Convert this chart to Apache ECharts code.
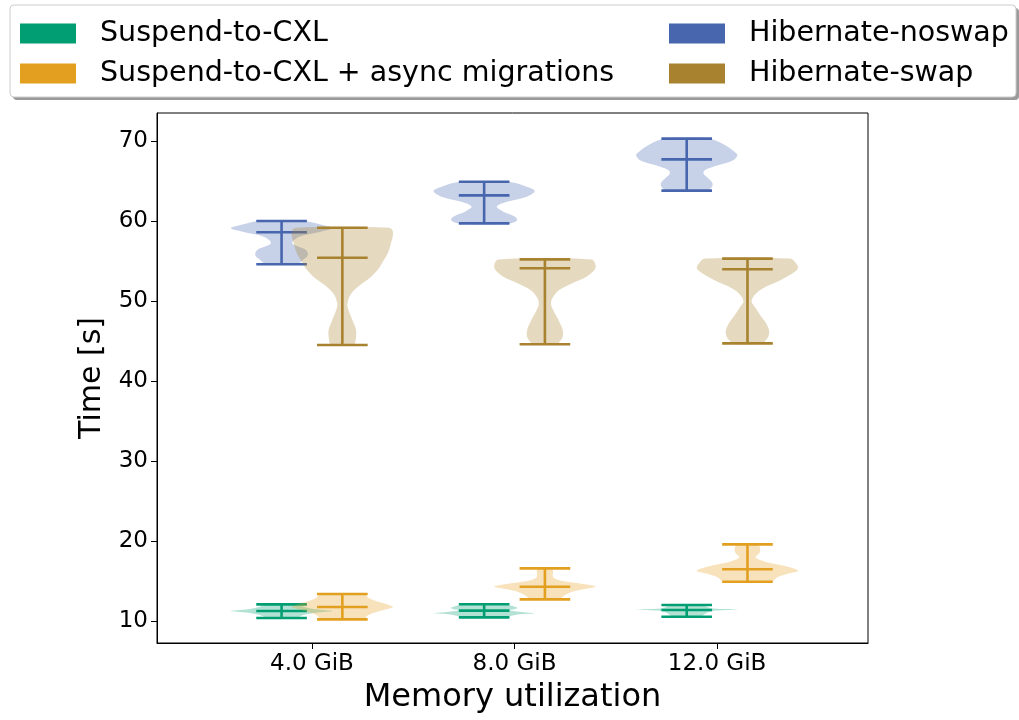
<!DOCTYPE html>
<html><head><meta charset="utf-8">
<script src="https://cdn.jsdelivr.net/npm/echarts@6/dist/echarts.min.js"></script>
<style>html,body{margin:0;padding:0;background:#fff}#c{width:1019px;height:720px}</style>
</head><body><div id="c"></div>
<script>
const categories = ['4.0 GiB', '8.0 GiB', '12.0 GiB'];
const seriesNames = ['Suspend-to-CXL', 'Suspend-to-CXL + async migrations', 'Hibernate-noswap', 'Hibernate-swap'];
const yTicks = [10, 20, 30, 40, 50, 60, 70];

// Suspend-to-CXL: min / middle bar / max per category, and violin outline [value, relative width]
const cxlMin = [10.38, 10.45, 10.54];
const cxlMid = [11.25, 11.3, 11.38];
const cxlMax = [12.08, 12.1, 12.0];
const cxlShape = [
  [[12.08,0.30],[11.79,0.43],[11.46,0.66],[11.25,1.0],[11.04,0.66],[10.75,0.43],[10.38,0.27]],
  [[12.1,0.38],[11.85,0.58],[11.6,0.66],[11.35,0.5],[11.1,0.78],[10.96,1.0],[10.8,0.66],[10.45,0.38]],
  [[12.0,0.31],[11.7,0.43],[11.52,0.6],[11.45,1.0],[11.3,0.58],[11.0,0.39],[10.54,0.27]]
];

// Suspend-to-CXL + async migrations
const asyncMin = [10.2, 12.7, 14.9];
const asyncMid = [11.75, 14.29, 16.46];
const asyncMax = [13.38, 16.58, 19.58];
const asyncShape = [
  [[13.38,0.43],[12.83,0.53],[12.4,0.71],[12.0,0.92],[11.75,1.0],[11.38,0.82],[10.96,0.59],[10.54,0.47],[10.2,0.45]],
  [[16.58,0.14],[16.17,0.16],[15.54,0.16],[15.12,0.27],[14.8,0.55],[14.5,0.88],[14.29,1.0],[13.96,0.75],[13.54,0.49],[13.04,0.35],[12.7,0.31]],
  [[19.58,0.2],[19.08,0.25],[18.54,0.24],[17.96,0.16],[17.4,0.35],[17.0,0.65],[16.58,0.9],[16.25,1.0],[15.88,0.78],[15.46,0.59],[14.9,0.47]]
];

// Hibernate-noswap
const noswapMin = [54.6, 59.7, 63.8];
const noswapMid = [58.6, 63.2, 67.7];
const noswapMax = [60.0, 64.9, 70.3];
const noswapShape = [
  [[60.0,0.42],[59.5,0.81],[59.09,1.0],[58.67,0.77],[58.04,0.35],[57.21,0.21],[56.38,0.48],[55.75,0.52],[55.12,0.42],[54.6,0.31]],
  [[64.9,0.47],[64.29,0.84],[63.75,1.0],[63.04,0.84],[62.4,0.45],[61.8,0.25],[61.2,0.37],[60.54,0.61],[60.1,0.65],[59.7,0.51]],
  [[70.3,0.43],[69.5,0.75],[68.67,0.94],[68.25,1.0],[67.6,0.92],[67.0,0.63],[66.4,0.37],[65.96,0.33],[65.3,0.43],[64.7,0.51],[64.2,0.49],[63.8,0.39]]
];

// Hibernate-swap
const swapMin = [44.5, 44.6, 44.7];
const swapMid = [55.4, 54.1, 53.96];
const swapMax = [59.16, 55.2, 55.3];
const swapShape = [
  [[59.16,0.92],[58.67,1.0],[57.21,0.96],[56.0,0.9],[54.7,0.78],[53.9,0.7],[53.04,0.57],[52.0,0.35],[50.96,0.18],[49.7,0.1],[48.9,0.12],[47.6,0.2],[46.4,0.27],[45.5,0.27],[44.7,0.25],[44.5,0.22]],
  [[55.2,0.92],[54.5,1.0],[53.9,0.98],[53.04,0.82],[52.2,0.53],[51.4,0.29],[50.5,0.16],[49.7,0.12],[48.9,0.16],[47.6,0.27],[46.4,0.35],[45.5,0.35],[44.9,0.29],[44.6,0.24]],
  [[55.3,0.84],[54.7,0.96],[54.1,1.0],[53.5,0.9],[52.6,0.65],[51.8,0.37],[51.0,0.18],[50.0,0.08],[49.3,0.14],[48.25,0.25],[47.2,0.37],[46.2,0.43],[45.3,0.39],[44.7,0.27]]
];

const COLORS = ['#029e73', '#e39f20', '#4766ae', '#a8822f'];
const OFFSET = [-0.15, 0.15, -0.15, 0.15];
const HALF = 0.25;   // max half width of a violin body (x units)
const CAP = 0.125;   // half length of the min / max / middle bars
const FONT = 'DejaVu Sans';

function violinSeries(k, mins, mids, maxs, shapes) {
  const color = COLORS[k];
  return {
    type: 'custom',
    name: seriesNames[k],
    itemStyle: { color: color },
    z: 2 + k,
    data: categories.map((c, i) => [i + 1, mins[i], mids[i], maxs[i], i]),
    encode: { x: 0, y: [1, 2, 3] },
    renderItem: function (params, api) {
      const i = api.value(4);
      const x = api.value(0) + OFFSET[k];
      const prof = shapes[i].slice().sort((a, b) => a[0] - b[0]);
      const pts = [];
      prof.forEach(p => pts.push(api.coord([x + p[1] * HALF, p[0]])));
      prof.slice().reverse().forEach(p => pts.push(api.coord([x - p[1] * HALF, p[0]])));
      const lo = api.value(1), md = api.value(2), hi = api.value(3);
      const seg = (v) => {
        const a = api.coord([x - CAP, v]), b = api.coord([x + CAP, v]);
        return { type: 'line', shape: { x1: a[0], y1: a[1], x2: b[0], y2: b[1] },
                 style: { stroke: color, lineWidth: 2.6 } };
      };
      const top = api.coord([x, hi]), bot = api.coord([x, lo]);
      return {
        type: 'group',
        children: [
          { type: 'polygon', shape: { points: pts, smooth: 0.35 },
            style: { fill: color, opacity: 0.3, stroke: 'none' } },
          { type: 'line', shape: { x1: top[0], y1: top[1], x2: bot[0], y2: bot[1] },
            style: { stroke: color, lineWidth: 2.6 } },
          seg(lo), seg(md), seg(hi)
        ]
      };
    }
  };
}

const chart = echarts.init(document.getElementById('c'), null, { renderer: 'canvas' });
const legendCommon = {
  orient: 'vertical', icon: 'rect', itemWidth: 56, itemHeight: 20, itemGap: 11,
  padding: 0, z: 10, selectedMode: false,
  textStyle: { fontFamily: FONT, fontSize: 28.5, color: '#000', lineHeight: 28, padding: [0, 0, 0, 19] }
};
chart.setOption({
  animation: false,
  backgroundColor: '#fff',
  graphic: [
    { type: 'rect', z: 0, shape: { x: 13, y: 8, width: 1006, height: 92, r: 4 }, style: { fill: '#9a9a9a' } },
    { type: 'rect', z: 1, shape: { x: 10, y: 5, width: 1006, height: 92, r: 4 }, style: { fill: '#fff', stroke: '#cccccc', lineWidth: 1 } }
  ],
  legend: [
    Object.assign({ left: 20, top: 19, data: [seriesNames[0], seriesNames[1]] }, legendCommon),
    Object.assign({ left: 669, top: 19, data: [seriesNames[2], seriesNames[3]] }, legendCommon)
  ],
  grid: { left: 157, right: 151, top: 113, bottom: 77, show: true, borderColor: '#000', borderWidth: 1, backgroundColor: 'transparent' },
  xAxis: {
    type: 'value', min: 0.235, max: 3.745,
    name: 'Memory utilization', nameLocation: 'middle', nameGap: 39,
    nameTextStyle: { fontFamily: FONT, fontSize: 32, color: '#000' },
    axisLine: { show: true, lineStyle: { color: '#000', width: 1 } },
    axisTick: { show: true, length: 6, lineStyle: { color: '#000', width: 1 }, customValues: [1, 2, 3] },
    axisLabel: { fontFamily: FONT, fontSize: 23, color: '#000', margin: 10, customValues: [1, 2, 3],
                 formatter: v => categories[Math.round(v) - 1] },
    splitLine: { show: false }
  },
  yAxis: {
    type: 'value', min: 7.25, max: 73.5,
    name: 'Time [s]', nameLocation: 'middle', nameGap: 50,
    nameTextStyle: { fontFamily: FONT, fontSize: 30, color: '#000' },
    axisLine: { show: true, lineStyle: { color: '#000', width: 1 } },
    axisTick: { show: true, length: 6, lineStyle: { color: '#000', width: 1 }, customValues: yTicks },
    axisLabel: { fontFamily: FONT, fontSize: 23, color: '#000', margin: 9, customValues: yTicks },
    splitLine: { show: false }
  },
  series: [
    violinSeries(0, cxlMin, cxlMid, cxlMax, cxlShape),
    violinSeries(1, asyncMin, asyncMid, asyncMax, asyncShape),
    violinSeries(2, noswapMin, noswapMid, noswapMax, noswapShape),
    violinSeries(3, swapMin, swapMid, swapMax, swapShape)
  ]
});
</script></body></html>
